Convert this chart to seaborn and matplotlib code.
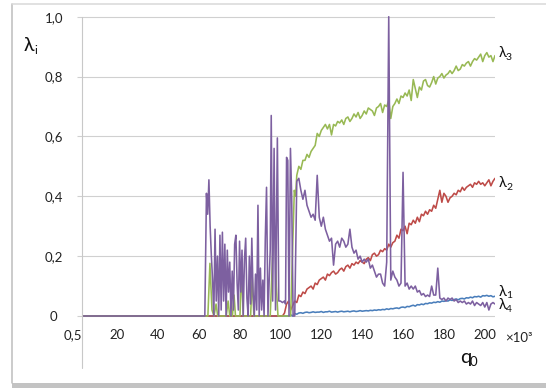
import numpy as np
import pandas as pd
import matplotlib
matplotlib.use("Agg")
import matplotlib.pyplot as plt
import seaborn as sns
from matplotlib.lines import Line2D
from matplotlib.patches import Rectangle

# ---- data -------------------------------------------------------------
# λ1 (blue): zero until ~104, then a slowly rising noisy line
q1 = [0.5, 104] + list(range(105, 206))
v1 = [0, 0,
      0.004, 0.000, 0.008, 0.006, 0.010, 0.011, 0.009, 0.012, 0.013, 0.011, 0.012,
      0.014, 0.012, 0.013, 0.013, 0.015, 0.012, 0.014, 0.014, 0.016, 0.013, 0.014,
      0.015, 0.013, 0.015, 0.016, 0.014, 0.015, 0.016, 0.014, 0.016, 0.017, 0.015,
      0.016, 0.018, 0.016, 0.017, 0.018, 0.017, 0.019, 0.018, 0.020, 0.019, 0.021,
      0.020, 0.022, 0.021, 0.024, 0.022, 0.025, 0.024, 0.026, 0.027, 0.025, 0.029,
      0.030, 0.028, 0.032, 0.031, 0.034, 0.036, 0.033, 0.038, 0.037, 0.040, 0.038,
      0.042, 0.041, 0.044, 0.043, 0.046, 0.045, 0.048, 0.046, 0.050, 0.049, 0.051,
      0.050, 0.054, 0.052, 0.055, 0.057, 0.054, 0.058, 0.059, 0.057, 0.061, 0.060,
      0.063, 0.061, 0.065, 0.064, 0.066, 0.063, 0.068, 0.067, 0.069, 0.066, 0.068,
      0.064, 0.066]

# λ2 (red)
q2 = [0.5, 101] + list(range(102, 206))
v2 = [0, 0,
      0.010, 0.040, 0.050, 0.020, 0.035, 0.050, 0.045, 0.070, 0.065, 0.080, 0.075, 0.090,
      0.095, 0.100, 0.090, 0.110, 0.105, 0.120, 0.125, 0.130, 0.120, 0.140, 0.135, 0.145,
      0.150, 0.140, 0.145, 0.155, 0.160, 0.150, 0.165, 0.170, 0.160, 0.175, 0.170, 0.180,
      0.175, 0.185, 0.180, 0.175, 0.190, 0.195, 0.185, 0.205, 0.210, 0.200, 0.205, 0.220,
      0.215, 0.225, 0.220, 0.240, 0.230, 0.245, 0.250, 0.270, 0.260, 0.290, 0.285, 0.300,
      0.275, 0.310, 0.305, 0.320, 0.310, 0.330, 0.315, 0.340, 0.335, 0.350, 0.340, 0.355,
      0.350, 0.370, 0.360, 0.390, 0.420, 0.380, 0.410, 0.400, 0.380, 0.395, 0.400, 0.410,
      0.405, 0.420, 0.415, 0.430, 0.420, 0.430, 0.435, 0.440, 0.430, 0.445, 0.440, 0.450,
      0.440, 0.445, 0.435, 0.445, 0.455, 0.435, 0.450, 0.460]

# λ3 (green): a few bursts in the unstable zone, then the main branch
q3 = [0.5, 64.5, 65.5, 66.5, 67.5, 68.5, 69.3, 73.5, 74.4, 75.2, 76.5,
      77.3, 78.0, 80.2, 81.0, 81.8, 85.4, 86.2, 87.0, 95.0, 96.5, 97.3,
      98.0, 98.8, 105.0, 106.8, 107.4] + list(range(108, 206))
v3 = [0, 0, 0.176, 0.020, 0.000, 0.040, 0.000, 0.000, 0.050, 0.000, 0.000,
      0.070, 0.000, 0.000, 0.155, 0.000, 0.000, 0.130, 0.000, 0.000, 0.260,
      0.300, 0.100, 0.000, 0.000, 0.420, 0.400,
      0.47, 0.50, 0.49, 0.52, 0.52, 0.54, 0.53, 0.55, 0.56, 0.57, 0.61,
      0.60, 0.62, 0.63, 0.64, 0.625, 0.64, 0.605, 0.64, 0.635, 0.65, 0.645,
      0.655, 0.64, 0.66, 0.665, 0.65, 0.66, 0.675, 0.665, 0.68, 0.66, 0.67,
      0.685, 0.675, 0.695, 0.69, 0.685, 0.67, 0.695, 0.70, 0.71, 0.68, 0.705,
      0.70, 0.72, 0.66, 0.70, 0.71, 0.725, 0.71, 0.735, 0.73, 0.745, 0.735,
      0.755, 0.72, 0.79, 0.76, 0.73, 0.765, 0.755, 0.785, 0.79, 0.77, 0.765,
      0.78, 0.80, 0.775, 0.795, 0.80, 0.81, 0.795, 0.805, 0.81, 0.82, 0.81,
      0.82, 0.835, 0.82, 0.825, 0.84, 0.835, 0.845, 0.85, 0.835, 0.85, 0.86,
      0.855, 0.865, 0.875, 0.85, 0.87, 0.88, 0.865, 0.87, 0.85, 0.87]

# λ4 (purple): strongly oscillating between ~62 and ~107, then decaying
q4 = [0.5, 62.0, 63.0, 63.8, 64.4, 65.0, 65.6, 66.2, 66.8, 67.4, 68.0,
      68.6, 69.2, 69.8, 70.4, 71.0, 71.6, 72.2, 72.8, 73.4, 74.0, 74.6,
      75.2, 75.8, 76.4, 77.0, 77.6, 78.2, 78.8, 79.4, 80.0, 80.6, 81.2,
      81.8, 82.4, 83.0, 83.6, 84.2, 84.8, 85.4, 86.0, 86.6, 87.2, 87.8,
      88.4, 89.0, 89.6, 90.2, 90.8, 91.4, 92.0, 92.6, 93.2, 93.9, 94.5,
      95.0, 95.5, 96.2, 96.9, 97.6, 98.5, 99.2,
      100.0, 101.0, 102.0, 102.5, 103.0, 103.6, 104.2, 104.9, 105.5, 106.2,
      107.0] + list(range(108, 206))
v4 = [0, 0, 0.000, 0.410, 0.340, 0.455, 0.300, 0.200, 0.120, 0.000, 0.290,
      0.050, 0.200, 0.000, 0.270, 0.020, 0.280, 0.050, 0.240, 0.000, 0.220,
      0.080, 0.180, 0.000, 0.150, 0.020, 0.240, 0.270, 0.110, 0.020, 0.250,
      0.080, 0.220, 0.000, 0.190, 0.260, 0.060, 0.000, 0.200, 0.040, 0.260,
      0.080, 0.000, 0.140, 0.020, 0.370, 0.000, 0.160, 0.020, 0.120, 0.000,
      0.260, 0.430, 0.000, 0.120, 0.220, 0.670, 0.050, 0.560, 0.020, 0.595,
      0.050,
      0.050, 0.045, 0.050, 0.040, 0.530, 0.520, 0.000, 0.560, 0.400, 0.000,
      0.000,
      0.45, 0.46, 0.42, 0.39, 0.42, 0.37, 0.35, 0.33, 0.34, 0.32, 0.47,
      0.33, 0.30, 0.33, 0.29, 0.27, 0.25, 0.26, 0.17, 0.24, 0.25, 0.23,
      0.26, 0.25, 0.23, 0.24, 0.29, 0.23, 0.21, 0.22, 0.19, 0.20, 0.18,
      0.19, 0.18, 0.19, 0.16, 0.17, 0.15, 0.13, 0.14, 0.14, 0.11, 0.10,
      0.18, 1.00, 0.12, 0.15, 0.13, 0.12, 0.10, 0.11, 0.48, 0.10, 0.11,
      0.09, 0.10, 0.09, 0.10, 0.08, 0.085, 0.07, 0.075, 0.065, 0.07, 0.065,
      0.10, 0.07, 0.07, 0.16, 0.06, 0.055, 0.06, 0.05, 0.06, 0.055, 0.06,
      0.05, 0.055, 0.045, 0.05, 0.045, 0.05, 0.04, 0.045, 0.04, 0.05,
      0.035, 0.045, 0.04, 0.035, 0.045, 0.03, 0.045, 0.02, 0.04, 0.045,
      0.04]

series_names = ["λ1", "λ2", "λ3", "λ4"]
series_colors = ["#4A7EBB", "#BE4B48", "#98B954", "#7D60A0"]

x_ticks = [2.8, 20, 40, 60, 80, 100, 120, 140, 160, 180, 200]
x_tick_labels = ["0,5", "20", "40", "60", "80", "100", "120", "140",
                 "160", "180", "200"]
y_ticks = [0, 0.2, 0.4, 0.6, 0.8, 1.0]
y_tick_labels = ["0", "0,2", "0,4", "0,6", "0,8", "1,0"]

# ---- figure -----------------------------------------------------------
sns.set_theme(style="white")
FAM = ["Lato", "DejaVu Sans"]
plt.rcParams["font.family"] = FAM

W, H = 546, 388
fig = plt.figure(figsize=(W / 100, H / 100), dpi=100)


def fx(px):
    return px / W


def fy(py):
    return 1 - py / H


ax_left, ax_right = 81.8, 495.0
ax_top, ax_bottom = 15.2, 319.0
ax = fig.add_axes([fx(ax_left), fy(ax_bottom),
                   (ax_right - ax_left) / W, (ax_bottom - ax_top) / H])
ax.set_facecolor("white")

frames = [pd.DataFrame({"q": q, "val": v, "series": n})
          for n, q, v in zip(series_names, [q1, q2, q3, q4], [v1, v2, v3, v4])]
df = pd.concat(frames, ignore_index=True)

sns.lineplot(data=df, x="q", y="val", hue="series", hue_order=series_names,
             palette=series_colors, estimator=None, sort=False,
             linewidth=1.15, legend=False, ax=ax)

ax.set_xlim(2.8, 205.0)
ax.set_ylim(-0.01, 1.005)
ax.set_xlabel("")
ax.set_ylabel("")
for s in ax.spines.values():
    s.set_visible(False)

grid_col = "#d0d0d0"
ax.set_yticks(y_ticks)
ax.set_yticklabels(y_tick_labels)
ax.set_xticks(x_ticks)
ax.set_xticklabels(x_tick_labels)
ax.yaxis.grid(True, color=grid_col, linewidth=0.8)
ax.xaxis.grid(False)
ax.set_axisbelow(True)
ax.tick_params(axis="y", left=True, length=3.3, width=0.8, color=grid_col,
               pad=16.8, labelsize=9.5, labelcolor="#222222")
ax.tick_params(axis="x", bottom=False, length=0, pad=7,
               labelsize=9.5, labelcolor="#222222")
for lab in ax.get_yticklabels():
    lab.set_horizontalalignment("center")
ax.get_xticklabels()[0].set_horizontalalignment("right")

# value axis line, running down past the category labels
fig.add_artist(Line2D([fx(81.8), fx(81.8)], [fy(16.7), fy(368)],
                      color="#c8c8c8", lw=0.8, transform=fig.transFigure))

# chart frame
fig.add_artist(Line2D([fx(12.2), fx(12.2)], [fy(4), fy(383)],
                      color="#bdbdbd", lw=1.1, transform=fig.transFigure))
fig.add_artist(Line2D([fx(12.2), 1.0], [fy(4), fy(4)],
                      color="#d9d9d9", lw=1.1, transform=fig.transFigure))
fig.add_artist(Rectangle((fx(11.5), 0), 1 - fx(11.5), fy(382.5),
                         facecolor="#c3c3c3", edgecolor="none",
                         transform=fig.transFigure))


def sub_label(x, y, main, sub, size, sub_size, dx, dy):
    fig.text(fx(x), fy(y), main, fontsize=size, family=FAM, color="#111111",
             ha="left", va="baseline")
    fig.text(fx(x + dx), fy(y + dy), sub, fontsize=sub_size, family=FAM,
             color="#111111", ha="left", va="baseline")


# axis titles
sub_label(24, 51, "λ", "i", 14, 8.5, 10, 3)
sub_label(460, 363, "q", "0", 14.5, 9.5, 10, 3)
fig.text(fx(505), fy(342), "×10³", fontsize=9.5, family=FAM,
         color="#222222", ha="left", va="baseline")

# series labels at the right end of the lines
sub_label(499, 57, "λ", "3", 10.5, 7.5, 7, 2.5)
sub_label(499, 187, "λ", "2", 10.5, 7.5, 7, 2.5)
sub_label(499, 296, "λ", "1", 10.5, 7.5, 7, 2.5)
sub_label(499, 309, "λ", "4", 10.5, 7.5, 7, 2.5)

fig.savefig("out.png", dpi=100, facecolor="white")
